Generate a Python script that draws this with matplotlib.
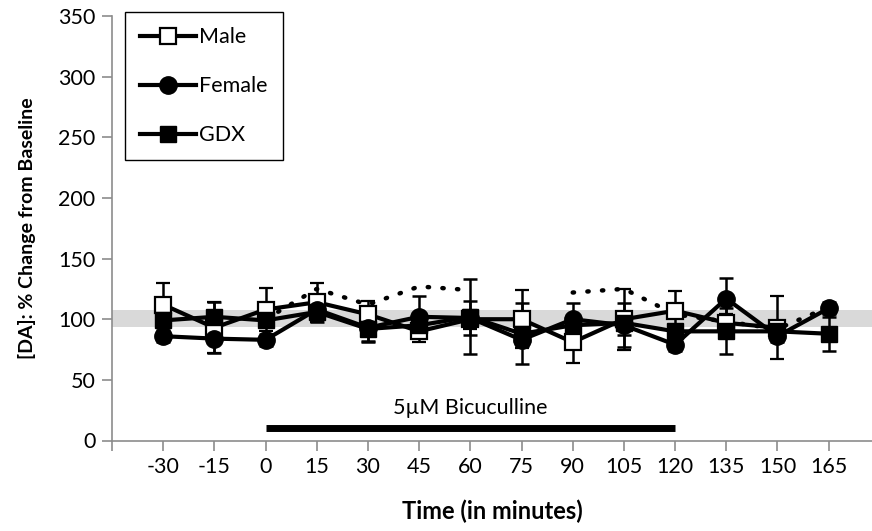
import numpy as np
import matplotlib
matplotlib.use("Agg")
import matplotlib.pyplot as plt
from matplotlib.lines import Line2D

plt.rcParams['font.family'] = ['Lato', 'DejaVu Sans']

# time points (minutes)
times = [-30, -15, 0, 15, 30, 45, 60, 75, 90, 105, 120, 135, 150, 165]

male = [112, 93, 108, 114, 104, 90, 100, 100, 81, 100, 107, 97, 93, np.nan]
male_err = [18, 21, 18, 16, 11, 9, 8, 24, 17, 25, 16, 7, 26, np.nan]

female = [86, 84, 83, 108, 93, 102, 101, 83, 100, 95, 79, 117, 86, 109]
female_err = [5, 12, 5, 6, 11, 17, 14, 5, 13, 18, 5, 17, 5, 5]

gdx = [99, 102, 99, 106, 92, 95, 102, 88, 95, 97, 90, 90, 90, 88]
gdx_err = [5, 12, 5, 8, 11, 8, 31, 25, 5, 10, 5, 19, 6, 14]

# dotted trace (no legend entry)
dotted = [np.nan, np.nan, 100, 125, 112, 127, 124, np.nan, 122, 125, 104, 98, 92, 110]

baseline_band = (93.5, 107.5)
drug_period = (0, 120)
drug_label = "5\u00b5M Bicuculline"

fig = plt.figure(figsize=(8.72, 5.31), dpi=100)
ax = fig.add_axes([112/872, 1-440.5/531, 1-112/872, (440.5-16)/531])

ax.axhspan(*baseline_band, color='#d9d9d9', lw=0, zorder=0)

ax.plot(times, dotted, ls=(0, (0.3, 3.0)), color='black', lw=3.2,
        dash_capstyle='round', zorder=2)

kw = dict(color='black', lw=3, ecolor='black', elinewidth=1.8,
          capsize=5, capthick=1.8, zorder=3)
ax.errorbar(times, male, yerr=male_err, marker='s', ms=11, mfc='white',
            mec='black', mew=1.6, **kw)
ax.errorbar(times, female, yerr=female_err, marker='o', ms=12.5, mfc='black',
            mec='black', **kw)
ax.errorbar(times, gdx, yerr=gdx_err, marker='s', ms=11, mfc='black',
            mec='black', **kw)

ax.plot(drug_period, [10, 10], color='black', lw=5, solid_capstyle='butt')
ax.text(np.mean(drug_period), 27, drug_label, ha='center', va='center',
        fontsize=15.5)

ax.set_xlim(-45, 177.7)
ax.set_ylim(0, 350)
ax.set_xticks([-45] + times)
ax.set_xticklabels([''] + [str(t) for t in times])
ax.set_yticks(range(0, 351, 50))

for s in ['top', 'right']:
    ax.spines[s].set_visible(False)
for s in ['left', 'bottom']:
    ax.spines[s].set_color('#8c8c8c')
    ax.spines[s].set_linewidth(1.2)
ax.tick_params(axis='both', direction='out', length=7, width=1.2,
               color='#8c8c8c', labelsize=15.5, pad=5)

ax.set_xlabel('Time (in minutes)', fontsize=17, fontweight='bold', labelpad=16)
ax.set_ylabel('[DA]: % Change from Baseline', fontsize=14, fontweight='bold',
              labelpad=16)

handles = [
    Line2D([], [], color='black', lw=3, marker='s', ms=11, mfc='white',
           mec='black', mew=1.6),
    Line2D([], [], color='black', lw=3, marker='o', ms=12.5, mfc='black'),
    Line2D([], [], color='black', lw=3, marker='s', ms=11, mfc='black'),
]
leg = ax.legend(handles, ['Male', 'Female', 'GDX'], loc='upper left',
                bbox_to_anchor=(125/872, 1-12/531),
                bbox_transform=fig.transFigure, borderaxespad=0,
                fontsize=15.5, handlelength=2.6, labelspacing=1.35,
                handletextpad=0.15, borderpad=0.7, fancybox=False,
                edgecolor='black', framealpha=1)
leg.get_frame().set_linewidth(1.0)

fig.savefig('out.png', dpi=100)
